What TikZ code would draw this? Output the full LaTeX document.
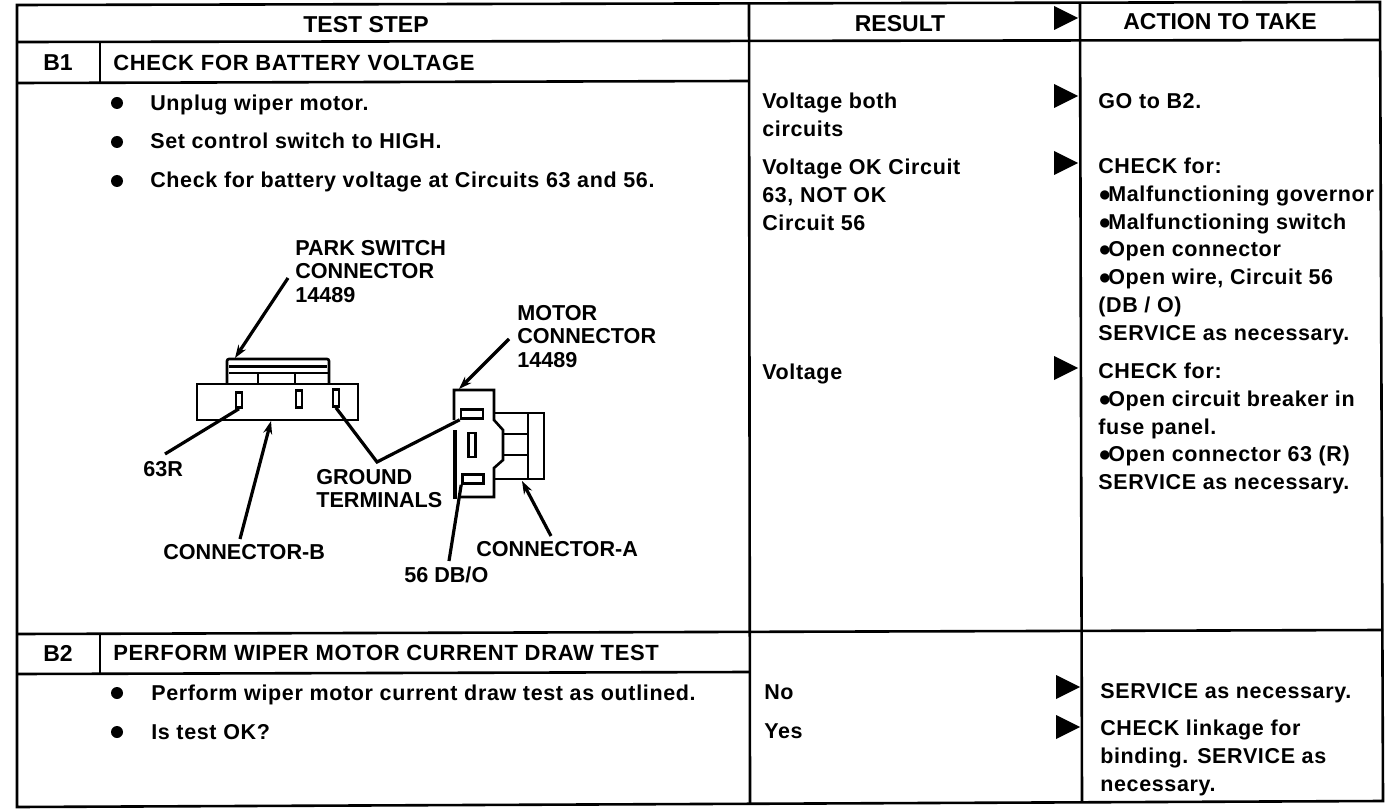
\documentclass[tikz,border=0pt]{standalone}
\usepackage{fontspec}
\usetikzlibrary{arrows.meta}
\setmainfont{Liberation Sans}
\newfontfamily\widefont{Liberation Sans}[LetterSpace=3]
\newcommand{\blt}{●\kern-3pt}
\tikzset{
	rowtext/.style={anchor=north west,inner sep=0pt,align=left,font=\fontsize{21.5}{27.7}\widefont\bfseries},
	titletext/.style={rowtext,font=\fontsize{22}{27.7}\widefont\bfseries},
	parttext/.style={rowtext,font=\fontsize{21.6}{23.5}\selectfont\bfseries},
	headtext/.style={inner sep=0pt,font=\fontsize{23}{27}\selectfont\bfseries},
	slot/.style={draw,line width=2.6pt,inner sep=0pt,minimum width=#1},
	leader/.style={line width=3.2pt},
	tipped/.style={leader,-{Stealth[length=13pt,width=9pt]}}
}
\begin{document}
\begin{tikzpicture}[x=1pt,y=-1pt,line width=2.6pt]
	\useasboundingbox (0,0) rectangle (1392,810);
	% table
	\draw (17,5) -- (1380,2) -- (1383,801) -- (17,807) -- cycle;
	\draw (17,42) -- (1380,40);
	\draw (17,83) -- (749,81);
	\draw (17,634) -- (1383,630);
	\draw (17,674) -- (749,672);
	\draw (100,42) -- (100,83);
	\draw (100,634) -- (100,674);
	\draw (749,4) -- (750,804);
	\draw (1080,3) -- (1082,802);
	% headings
	\node[headtext] (headstep) at (366,25) {TEST STEP};
	\node[headtext] (headresult) at (900,24) {RESULT};
	\node[headtext] (headaction) at (1220,22) {ACTION TO TAKE};
	\node[headtext] (bone) at (58,63) {B1};
	\node[headtext] (btwo) at (58,653) {B2};
	\node[titletext] (titleone) at (112,54) {CHECK FOR BATTERY VOLTAGE};
	\node[titletext] (titletwo) at (112,644) {PERFORM WIPER MOTOR CURRENT DRAW TEST};
	% steps
	\foreach \y in {103,142,181,693,732}
		\fill (117,\y) circle (6);
	\node[rowtext] (stepa) at (149,94) {Unplug wiper motor.};
	\node[rowtext] (stepb) at (149,132) {Set control switch to HIGH.};
	\node[rowtext] (stepc) at (149,171) {Check for battery voltage at Circuits 63 and 56.};
	\node[rowtext] (stepd) at (150,684) {Perform wiper motor current draw test as outlined.};
	\node[rowtext] (stepe) at (150,723) {Is test OK?};
	% results
	\foreach \x/\y in {1054/18,1054/96,1054/163,1054/368,1056/687,1056/727}
		\fill (\x,\y-12) -- (\x+24,\y) -- (\x,\y+12) -- cycle;
	\node[rowtext] (resa) at (761,92) {Voltage both\\circuits};
	\node[rowtext] (resb) at (761,158) {Voltage OK Circuit\\63, NOT OK\\Circuit 56};
	\node[rowtext] (resc) at (761,363) {Voltage};
	\node[rowtext] (resd) at (763,683) {No};
	\node[rowtext] (rese) at (763,722) {Yes};
	% actions
	\node[rowtext] (acta) at (1097,92) {GO to B2.};
	\node[rowtext] (actb) at (1097,157) {CHECK for:\\\blt Malfunctioning governor\\\blt Malfunctioning switch\\\blt Open connector\\\blt Open wire, Circuit 56\\(DB / O)\\SERVICE as necessary.};
	\node[rowtext] (actc) at (1097,362) {CHECK for:\\\blt Open circuit breaker in\\fuse panel.\\\blt Open connector 63 (R)\\SERVICE as necessary.};
	\node[rowtext] (actd) at (1099,682) {SERVICE as necessary.};
	\node[rowtext] (acte) at (1099,719) {CHECK linkage for\\binding. SERVICE as\\necessary.};
	% park switch connector
	\draw[rounded corners=2pt] (227,384) -- (227,359) -- (329,359) -- (329,384);
	\draw[line width=3pt] (229,366) -- (327,366);
	\draw (229,373) -- (329,373);
	\draw (258,374) -- (258,384);
	\draw (295,374) -- (295,384);
	\draw (197,384) rectangle (358,420);
	\node[slot=6pt,minimum height=15pt] (slotb) at (239,400) {};
	\node[slot=6pt,minimum height=17pt] (slotc) at (299,399) {};
	\node[slot=6pt,minimum height=17pt] (slotd) at (336,398) {};
	\coordinate (parktop) at (235,358);
	\coordinate (parkbase) at (271,421);
	% motor connector
	\draw (454,420) -- (454,390) -- (494,390) -- (494,420) -- (503,430) -- (503,460) -- (494,468) -- (494,497) -- (460,497);
	\draw[line width=3.4pt] (455,430) -- (455,499);
	\draw (494,413) -- (544,413) -- (544,479) -- (494,479);
	\draw (528,413) -- (528,479);
	\draw (503,434) -- (528,434);
	\draw (503,455) -- (528,455);
	\node[slot=22pt,minimum height=9pt] (slote) at (472,414) {};
	\node[slot=7pt,minimum height=24pt] (slotf) at (472,445) {};
	\node[slot=21pt,minimum height=9pt] (slotg) at (473,479) {};
	\coordinate (motortop) at (459,389);
	\coordinate (motorbase) at (522,481);
	% labels
	\node[parttext] (labpark) at (294,239) {PARK SWITCH\\CONNECTOR\\14489};
	\node[parttext] (labmotor) at (516,304) {MOTOR\\CONNECTOR\\14489};
	\node[parttext] (labred) at (142,460) {63R};
	\node[parttext] (labground) at (315,468) {GROUND\\TERMINALS};
	\node[parttext] (labb) at (162,543) {CONNECTOR-B};
	\node[parttext] (laba) at (475,540) {CONNECTOR-A};
	\node[parttext] (labdb) at (403,566) {56 DB/O};
	\coordinate (parkend) at (288,278);
	\coordinate (motorend) at (509,339);
	\coordinate (redend) at (165,454);
	\coordinate (bend) at (240,539);
	\coordinate (aend) at (551,536);
	\coordinate (dbend) at (449,561);
	\coordinate (groundbend) at (377,462);
	% leaders
	\draw[tipped] (parkend) -- (parktop);
	\draw[tipped] (motorend) -- (motortop);
	\draw[leader] (redend) -- (slotb.south);
	\draw[tipped] (bend) -- (parkbase);
	\draw[tipped] (aend) -- (motorbase);
	\draw[leader] (dbend) -- (slotg.south west);
	\draw[leader] (slotd.south) -- (groundbend) -- (slote.south west);
\end{tikzpicture}
\end{document}
